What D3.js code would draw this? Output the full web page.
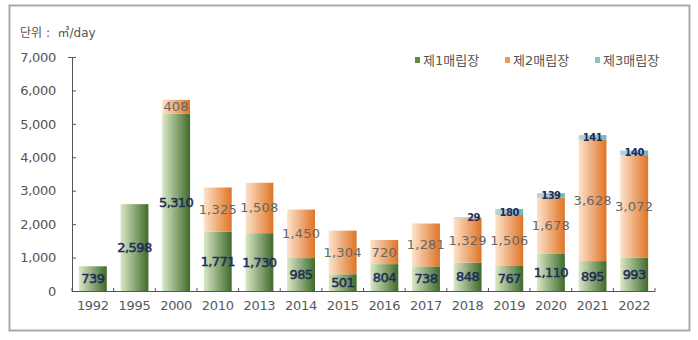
<!DOCTYPE html>
<html><head><meta charset="utf-8">
<script src="https://cdn.jsdelivr.net/npm/d3@7"></script>
<style>
html,body{margin:0;padding:0;background:#fff;}
svg{display:block;}
text{font-family:"DejaVu Sans","Noto Sans CJK KR",sans-serif;}
</style></head>
<body>
<script>
const years = ["1992","1995","2000","2010","2013","2014","2015","2016","2017","2018","2019","2020","2021","2022"];
const landfill1 = [739,2598,5310,1771,1730,985,501,804,738,848,767,1110,895,993];
const landfill2 = [0,0,408,1325,1508,1450,1304,720,1281,1329,1506,1678,3628,3072];
const landfill3 = [0,0,0,0,0,0,0,0,0,29,180,139,141,140];
const seriesNames = ["제1매립장","제2매립장","제3매립장"];
const yTicks = [0,1000,2000,3000,4000,5000,6000,7000];
const unitLabel = "단위 :  ㎥/day";

const W = 698, H = 340;
const svg = d3.select("body").append("svg").attr("width", W).attr("height", H);

const defs = svg.append("defs");
function grad(id, c1, c2){
  const g = defs.append("linearGradient").attr("id", id).attr("x1","0").attr("x2","1").attr("y1","0").attr("y2","0");
  g.append("stop").attr("offset","0").attr("stop-color", c1);
  g.append("stop").attr("offset","1").attr("stop-color", c2);
}
grad("g1", "#dbe8c6", "#3e6a2a");
grad("g2", "#fde3cc", "#df7426");
grad("g3", "#b4d7de", "#78b2bf");
const fills = ["url(#g1)","url(#g2)","url(#g3)"];
const swatch = ["#5d8a45","#ee9a5a","#8cc0ca"];

// frame
svg.append("rect").attr("x",9.5).attr("y",5.5).attr("width",680).attr("height",325)
  .attr("fill","none").attr("stroke","#a3abb3").attr("stroke-width",2);

const x = d3.scaleBand().domain(years).range([72, 655]).paddingInner(0.33).paddingOuter(0.165);
const y = d3.scaleLinear().domain([0,7000]).range([291, 57]);

const data = years.map((yr,i)=>({yr, v:[landfill1[i], landfill2[i], landfill3[i]]}));
const stack = d3.stack().keys([0,1,2]).value((d,k)=>d.v[k]);
const layers = stack(data);

// bars
layers.forEach((layer,k)=>{
  svg.append("g").selectAll("rect").data(layer).join("rect")
    .attr("x", d=>x(d.data.yr))
    .attr("width", x.bandwidth())
    .attr("y", d=>y(d[1]))
    .attr("height", d=>Math.max(0, y(d[0]) - y(d[1])))
    .attr("fill", fills[k]);
});

// axes
const yAxis = svg.append("g").attr("transform","translate(72,0)")
  .call(d3.axisLeft(y).tickValues(yTicks).tickSize(-4).tickPadding(16).tickFormat(d3.format(",")));
yAxis.select(".domain").attr("stroke","#555").attr("d","M-4,57.5H0.5V291.5");
yAxis.selectAll(".tick line").attr("stroke","#555");
yAxis.selectAll("text").attr("fill","#555").attr("font-size",13).attr("letter-spacing",-0.3);

const xAxis = svg.append("g").attr("transform","translate(0,291.5)")
  .call(d3.axisBottom(x).tickSize(0).tickPadding(9));
xAxis.select(".domain").attr("stroke","#555").attr("d","M72,0H655");
xAxis.selectAll("text").attr("fill","#5a5a5a").attr("font-size",13).attr("letter-spacing",-0.3);
// boundary ticks
const bounds = years.map((yr,i)=> i===0 ? 72 : x(yr) - x.step()*x.paddingInner()/2).concat([655]);
svg.append("g").selectAll("line").data(bounds).join("line")
  .attr("x1", d=>d).attr("x2", d=>d).attr("y1",288).attr("y2",291.5)
  .attr("stroke","#555");

// value labels
const fmt = d3.format(",");
layers.forEach((layer,k)=>{
  const g = svg.append("g");
  layer.forEach(d=>{
    const val = d.data.v[k];
    if(!val) return;
    const cx = x(d.data.yr) + x.bandwidth()/2;
    const cy = (y(d[0]) + y(d[1]))/2;
    const t = g.append("text").attr("x", cx + (k===2 && val<50 ? 6 : 0)).attr("y", cy)
      .attr("text-anchor","middle").attr("dominant-baseline","central")
      .text(fmt(val));
    if(k===0){
      t.attr("fill","#1e2c58").attr("font-size",13)
       .attr("stroke","#1e2c58").attr("stroke-width",0.5)
       .attr("letter-spacing",-0.6);
    } else if(k===1){
      t.attr("fill","#666").attr("font-size",13).attr("letter-spacing",0.2);
    } else {
      t.attr("fill","#1e2c58").attr("font-size",10).attr("font-weight","bold").attr("letter-spacing",-0.5);
    }
  });
});

// unit label
svg.append("text").attr("x",20).attr("y",37).attr("fill","#555").attr("font-size",12)
  .style("white-space","pre").attr("xml:space","preserve").text(unitLabel);

// legend
const legX = [415, 505, 595];
seriesNames.forEach((n,i)=>{
  svg.append("rect").attr("x",legX[i]).attr("y",57).attr("width",5).attr("height",6).attr("fill",swatch[i]);
  svg.append("text").attr("x",legX[i]+8).attr("y",65).attr("fill","#555").attr("font-size",13).text(n);
});
</script>
</body></html>
